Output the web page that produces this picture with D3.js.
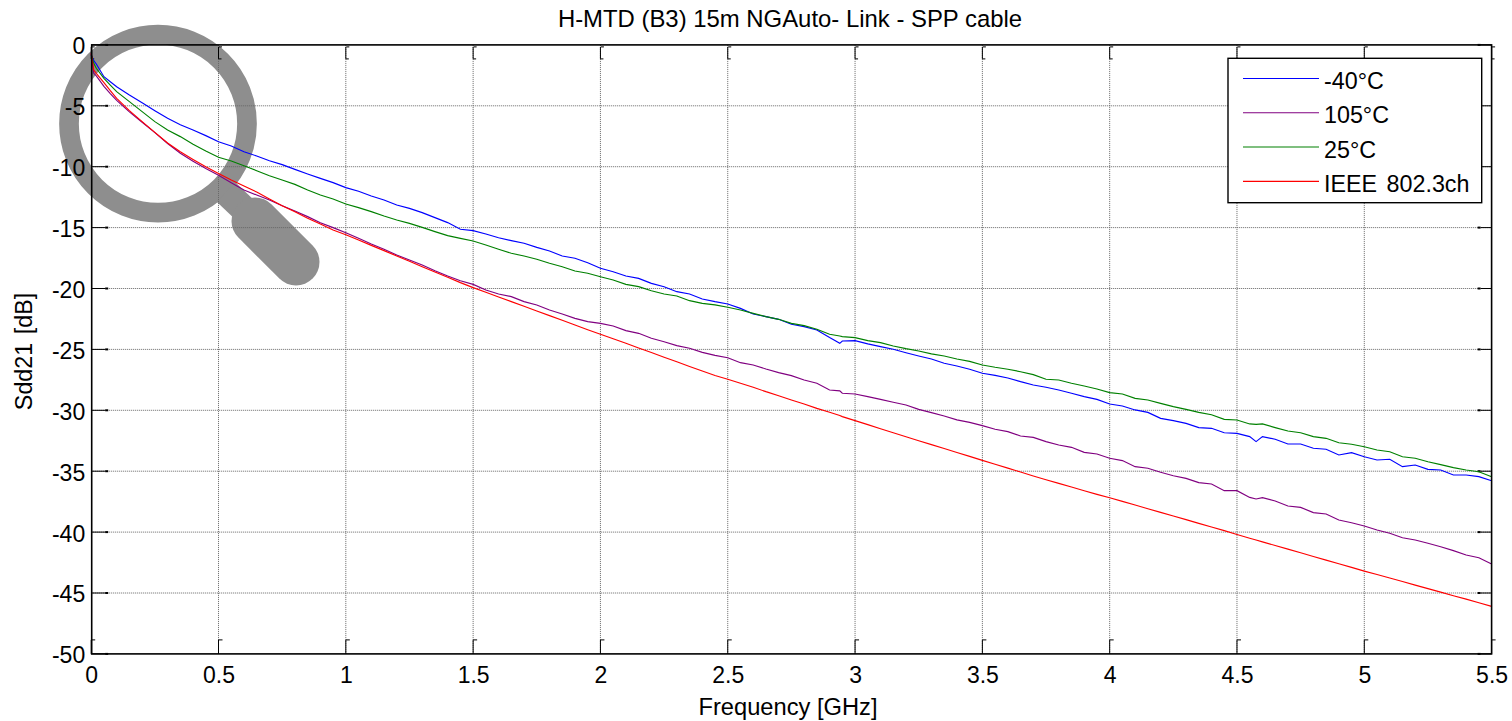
<!DOCTYPE html>
<html>
<head>
<meta charset="utf-8">
<script src="https://cdn.jsdelivr.net/npm/d3@7"></script>
<style>
html,body{margin:0;padding:0;background:#fff;overflow:hidden}
svg{display:block}
text{font-family:"Liberation Sans",Arial,sans-serif;fill:#000}
</style>
</head>
<body>
<svg id="chart" width="1512" height="721"></svg>
<script>
const titleText = "H-MTD (B3) 15m NGAuto- Link - SPP cable";
const xLabel = "Frequency [GHz]";
const yLabel = "Sdd21 [dB]";
const xTicks = [0,0.5,1,1.5,2,2.5,3,3.5,4,4.5,5,5.5];
const yTicks = [0,-5,-10,-15,-20,-25,-30,-35,-40,-45,-50];
const seriesNames = ["-40°C","105°C","25°C","IEEE 802.3ch"];
const seriesColors = ["#0000ff","#800080","#008000","#ff0000"];
const freq = [0,0.01,0.02,0.05,0.075,0.1,0.15,
  0.2,0.25,0.3,0.35,0.4,0.45,0.5,0.55,0.6,0.65,0.7,0.75,0.8,0.85,0.9,0.95,
  1,1.05,1.1,1.15,1.2,1.25,1.3,1.35,1.4,1.45,1.5,1.55,1.6,1.65,1.7,1.75,1.8,1.85,1.9,1.95,
  2,2.05,2.1,2.15,2.2,2.25,2.3,2.35,2.4,2.45,
  2.5,2.55,2.6,2.65,2.7,2.75,2.8,2.85,2.9,2.94,2.95,
  3,3.05,3.1,3.15,3.2,3.25,3.3,3.35,3.4,3.45,3.5,3.55,3.6,3.65,3.7,3.75,3.8,3.85,3.9,3.95,4,
  4.05,4.1,4.15,4.2,4.25,4.3,4.35,4.4,4.45,4.5,4.55,4.575,
  4.6,4.65,4.7,4.75,4.8,4.85,4.9,4.95,5,5.05,5.1,5.15,5.2,5.25,5.3,5.35,5.4,5.45,5.5];
const minus40 = [-0.8,-1.29,-1.57,-2.61,-3.02,-3.43,-4.11,
  -4.74,-5.40,-6.03,-6.55,-6.99,-7.45,-7.95,-8.30,-8.77,-9.12,-9.51,-9.83,-10.22,-10.60,-10.96,-11.31,
  -11.72,-12.02,-12.40,-12.73,-13.14,-13.42,-13.77,-14.18,-14.59,-15.14,-15.25,-15.52,-15.83,-16.07,-16.29,-16.62,-16.92,-17.33,-17.52,-17.88,
  -18.34,-18.62,-18.97,-19.17,-19.58,-19.85,-20.26,-20.45,-20.86,-21.08,
  -21.27,-21.63,-22.09,-22.31,-22.53,-22.94,-23.13,-23.40,-24.03,-24.5,-24.31,
  -24.28,-24.55,-24.77,-24.99,-25.27,-25.54,-25.79,-26.14,-26.36,-26.63,-26.96,-27.13,-27.35,-27.65,-27.92,-28.11,-28.33,-28.60,-28.88,-29.10,-29.48,
  -29.65,-29.97,-30.17,-30.66,-30.85,-31.07,-31.42,-31.48,-31.84,-31.89,-32.16,-32.57,
  -32.16,-32.38,-32.77,-32.77,-33.12,-33.20,-33.67,-33.48,-33.81,-34.08,-34.02,-34.63,-34.49,-34.85,-34.90,-35.31,-35.31,-35.45,-35.78];
const plus105 = [-0.7,-2.33,-2.55,-3.4,-4.0,-4.55,-5.5,
  -6.35,-7.2,-8.1,-8.9,-9.55,-10.15,-10.7,-11.31,-11.91,-12.33,-12.74,-13.2,-13.64,-14.1,-14.6,-15.0,
  -15.42,-15.88,-16.35,-16.78,-17.25,-17.66,-18.07,-18.54,-18.97,-19.36,-19.66,-20.12,-20.45,-20.67,-21.08,-21.35,-21.77,-22.09,-22.45,-22.72,
  -22.86,-23.08,-23.46,-23.68,-24.09,-24.37,-24.69,-24.91,-25.24,-25.49,
  -25.68,-26.09,-26.28,-26.61,-26.91,-27.15,-27.51,-27.78,-28.33,-28.4,-28.60,
  -28.66,-28.88,-29.10,-29.34,-29.56,-29.92,-30.19,-30.47,-30.79,-30.99,-31.26,-31.56,-31.75,-32.11,-32.22,-32.57,-32.85,-33.04,-33.45,-33.59,-33.94,
  -34.13,-34.63,-34.76,-35.09,-35.37,-35.59,-35.94,-36.05,-36.60,-36.60,-37.15,-37.28,
  -37.17,-37.45,-37.86,-37.97,-38.40,-38.51,-39.01,-39.23,-39.50,-39.83,-40.10,-40.46,-40.65,-40.92,-41.20,-41.52,-41.88,-42.10,-42.62];
const plus25 = [-0.8,-1.51,-1.92,-2.74,-3.30,-3.84,-4.66,
  -5.48,-6.30,-6.99,-7.53,-8.15,-8.72,-9.23,-9.53,-9.92,-10.33,-10.74,-11.09,-11.45,-11.91,-12.33,-12.65,
  -13.06,-13.36,-13.69,-14.05,-14.38,-14.65,-14.98,-15.33,-15.66,-15.88,-16.10,-16.43,-16.78,-17.11,-17.33,-17.60,-17.93,-18.21,-18.56,-18.75,
  -19.03,-19.30,-19.66,-19.85,-20.18,-20.45,-20.62,-21.0,-21.22,-21.35,
  -21.54,-21.76,-22.04,-22.31,-22.53,-22.86,-23.05,-23.35,-23.76,-23.9,-23.95,
  -24.03,-24.28,-24.44,-24.72,-24.94,-25.13,-25.37,-25.54,-25.79,-25.98,-26.28,-26.47,-26.63,-26.83,-27.07,-27.45,-27.51,-27.78,-28.0,-28.25,-28.55,
  -28.66,-29.02,-29.15,-29.43,-29.70,-29.92,-30.17,-30.36,-30.74,-30.80,-31.12,-31.15,
  -31.12,-31.42,-31.70,-31.84,-32.16,-32.30,-32.66,-32.79,-32.99,-33.26,-33.40,-33.81,-33.94,-34.22,-34.46,-34.71,-34.90,-35.04,-35.45];
const ieee = [-0.7,-2.06,-2.33,-3.10,-3.76,-4.39,-5.4,
  -6.30,-7.18,-8.05,-8.77,-9.40,-10.0,-10.55,-11.09,-11.59,-12.08,-12.65,-13.20,-13.69,-14.24,-14.71,-15.2,
  -15.58,-16.02,-16.46,-16.89,-17.33,-17.77,-18.21,-18.65,-19.08,-19.52,-19.93,-20.31,-20.70,-21.08,-21.46,-21.85,-22.23,-22.61,-23.0,-23.38,
  -23.76,-24.12,-24.50,-24.88,-25.26,-25.64,-26.02,-26.40,-26.78,-27.14,
  -27.45,-27.78,-28.11,-28.47,-28.80,-29.15,-29.48,-29.84,-30.16,-30.42,-30.52,
  -30.85,-31.18,-31.52,-31.84,-32.17,-32.50,-32.82,-33.14,-33.46,-33.78,-34.11,-34.43,-34.75,-35.07,-35.39,-35.70,-36.00,-36.30,-36.60,-36.90,-37.18,
  -37.48,-37.78,-38.08,-38.38,-38.68,-38.98,-39.28,-39.58,-39.88,-40.2,-40.5,-40.65,
  -40.8,-41.1,-41.4,-41.7,-42.0,-42.3,-42.6,-42.9,-43.2,-43.48,-43.77,-44.06,-44.35,-44.64,-44.93,-45.22,-45.5,-45.8,-46.1];
const seriesValues = [minus40, plus105, plus25, ieee];

const L = 91.2, R = 1491.6, T = 44.9, B = 653.9;
const x = d3.scaleLinear().domain([0,5.5]).range([L,R]);
const y = d3.scaleLinear().domain([0,-50]).range([T,B]);
const svg = d3.select("#chart");
const FONT = '"Liberation Sans",Arial,sans-serif';

// magnifier watermark behind everything
const mag = svg.append("g").attr("fill","none").attr("stroke","#8e8e8e");
mag.append("circle").attr("cx",158).attr("cy",123.7).attr("r",89).attr("stroke-width",19.7);
mag.append("line").attr("x1",226).attr("y1",192).attr("x2",247).attr("y2",212).attr("stroke-width",27);
mag.append("line").attr("x1",255).attr("y1",221).attr("x2",296).attr("y2",262).attr("stroke-width",47).attr("stroke-linecap","round");

// grid
const grid = svg.append("g").attr("stroke","#666").attr("stroke-dasharray","1 1").attr("stroke-width",1);
grid.selectAll("line.v").data(xTicks.slice(1,-1)).join("line").attr("class","v")
  .attr("x1",d=>x(d)).attr("x2",d=>x(d)).attr("y1",T).attr("y2",B);
grid.selectAll("line.h").data(yTicks.slice(1,-1)).join("line").attr("class","h")
  .attr("x1",L).attr("x2",R).attr("y1",d=>y(d)).attr("y2",d=>y(d));

// ticks with small end caps
const tickG = svg.append("g").attr("stroke","#000").attr("fill","none").attr("stroke-width",1);
xTicks.forEach(t=>{
  const px=x(t);
  tickG.append("path").attr("d",`M${px},${B}V${B-14}h4`);
  tickG.append("path").attr("d",`M${px+.5},${T+2}h3M${px},${T+2}V${T+14}h3`);
});
yTicks.forEach(t=>{
  const py=y(t);
  tickG.append("path").attr("d",`M${L},${py}h14`);
  tickG.append("path").attr("d",`M${L+14},${py}h3`).attr("stroke-width",2);
  tickG.append("path").attr("d",`M${R},${py}h-11`);
  tickG.append("path").attr("d",`M${R-11},${py}h-3`).attr("stroke-width",2);
});

// lines
const line = d3.line().x((d,i)=>x(freq[i])).y(d=>y(d));
svg.append("g").attr("fill","none").attr("stroke-width",1.15)
  .selectAll("path").data(seriesValues).join("path")
  .attr("stroke",(d,i)=>seriesColors[i]).attr("d",line);

// frame
svg.append("rect").attr("x",L+.5).attr("y",T).attr("width",R-L-.5).attr("height",B-T)
  .attr("fill","none").attr("stroke","#000").attr("stroke-width",1.6);

// tick labels
const fmt = d => String(d);
const axX = d3.axisBottom(x).tickValues(xTicks).tickSize(0).tickPadding(12.4).tickFormat(fmt);
const axY = d3.axisLeft(y).tickValues(yTicks).tickSize(0).tickPadding(6).tickFormat(fmt);
const gx = svg.append("g").attr("transform",`translate(0,${B})`).call(axX);
const gy = svg.append("g").attr("transform",`translate(${L},0)`).call(axY);
[gx,gy].forEach(g=>{
  g.select(".domain").remove();
  g.attr("font-family",null).attr("font-size",null);
  g.selectAll("text").style("font-family",FONT).style("font-size","23px");
});
gy.selectAll("text").attr("dy","0.39em");

// titles
svg.append("text").attr("x",790).attr("y",27.3).attr("text-anchor","middle").attr("font-size",23.9).text(titleText);
svg.append("text").attr("x",788).attr("y",715).attr("text-anchor","middle").attr("font-size",23.7).text(xLabel);
svg.append("text").attr("transform","translate(31.5,351.5) rotate(-90)").attr("text-anchor","middle").attr("font-size",23.3).attr("word-spacing",2).text(yLabel);

// legend
const legend = svg.append("g");
legend.append("rect").attr("x",1228).attr("y",58.3).attr("width",253.7).attr("height",144.4)
  .attr("fill","#fff").attr("stroke","#000").attr("stroke-width",1.4);
const legendY = d3.scalePoint().domain(seriesNames).range([78.5,181.3]);
const items = legend.selectAll("g").data(seriesNames).join("g");
items.append("line").attr("x1",1243).attr("x2",1319).attr("y1",d=>legendY(d)).attr("y2",d=>legendY(d))
  .attr("stroke",(d,i)=>seriesColors[i]).attr("stroke-width",1.15);
items.append("text").attr("x",1324).attr("y",d=>legendY(d)+10.5).attr("font-size",23.3).attr("word-spacing",3).text(d=>d);
</script>
</body>
</html>
